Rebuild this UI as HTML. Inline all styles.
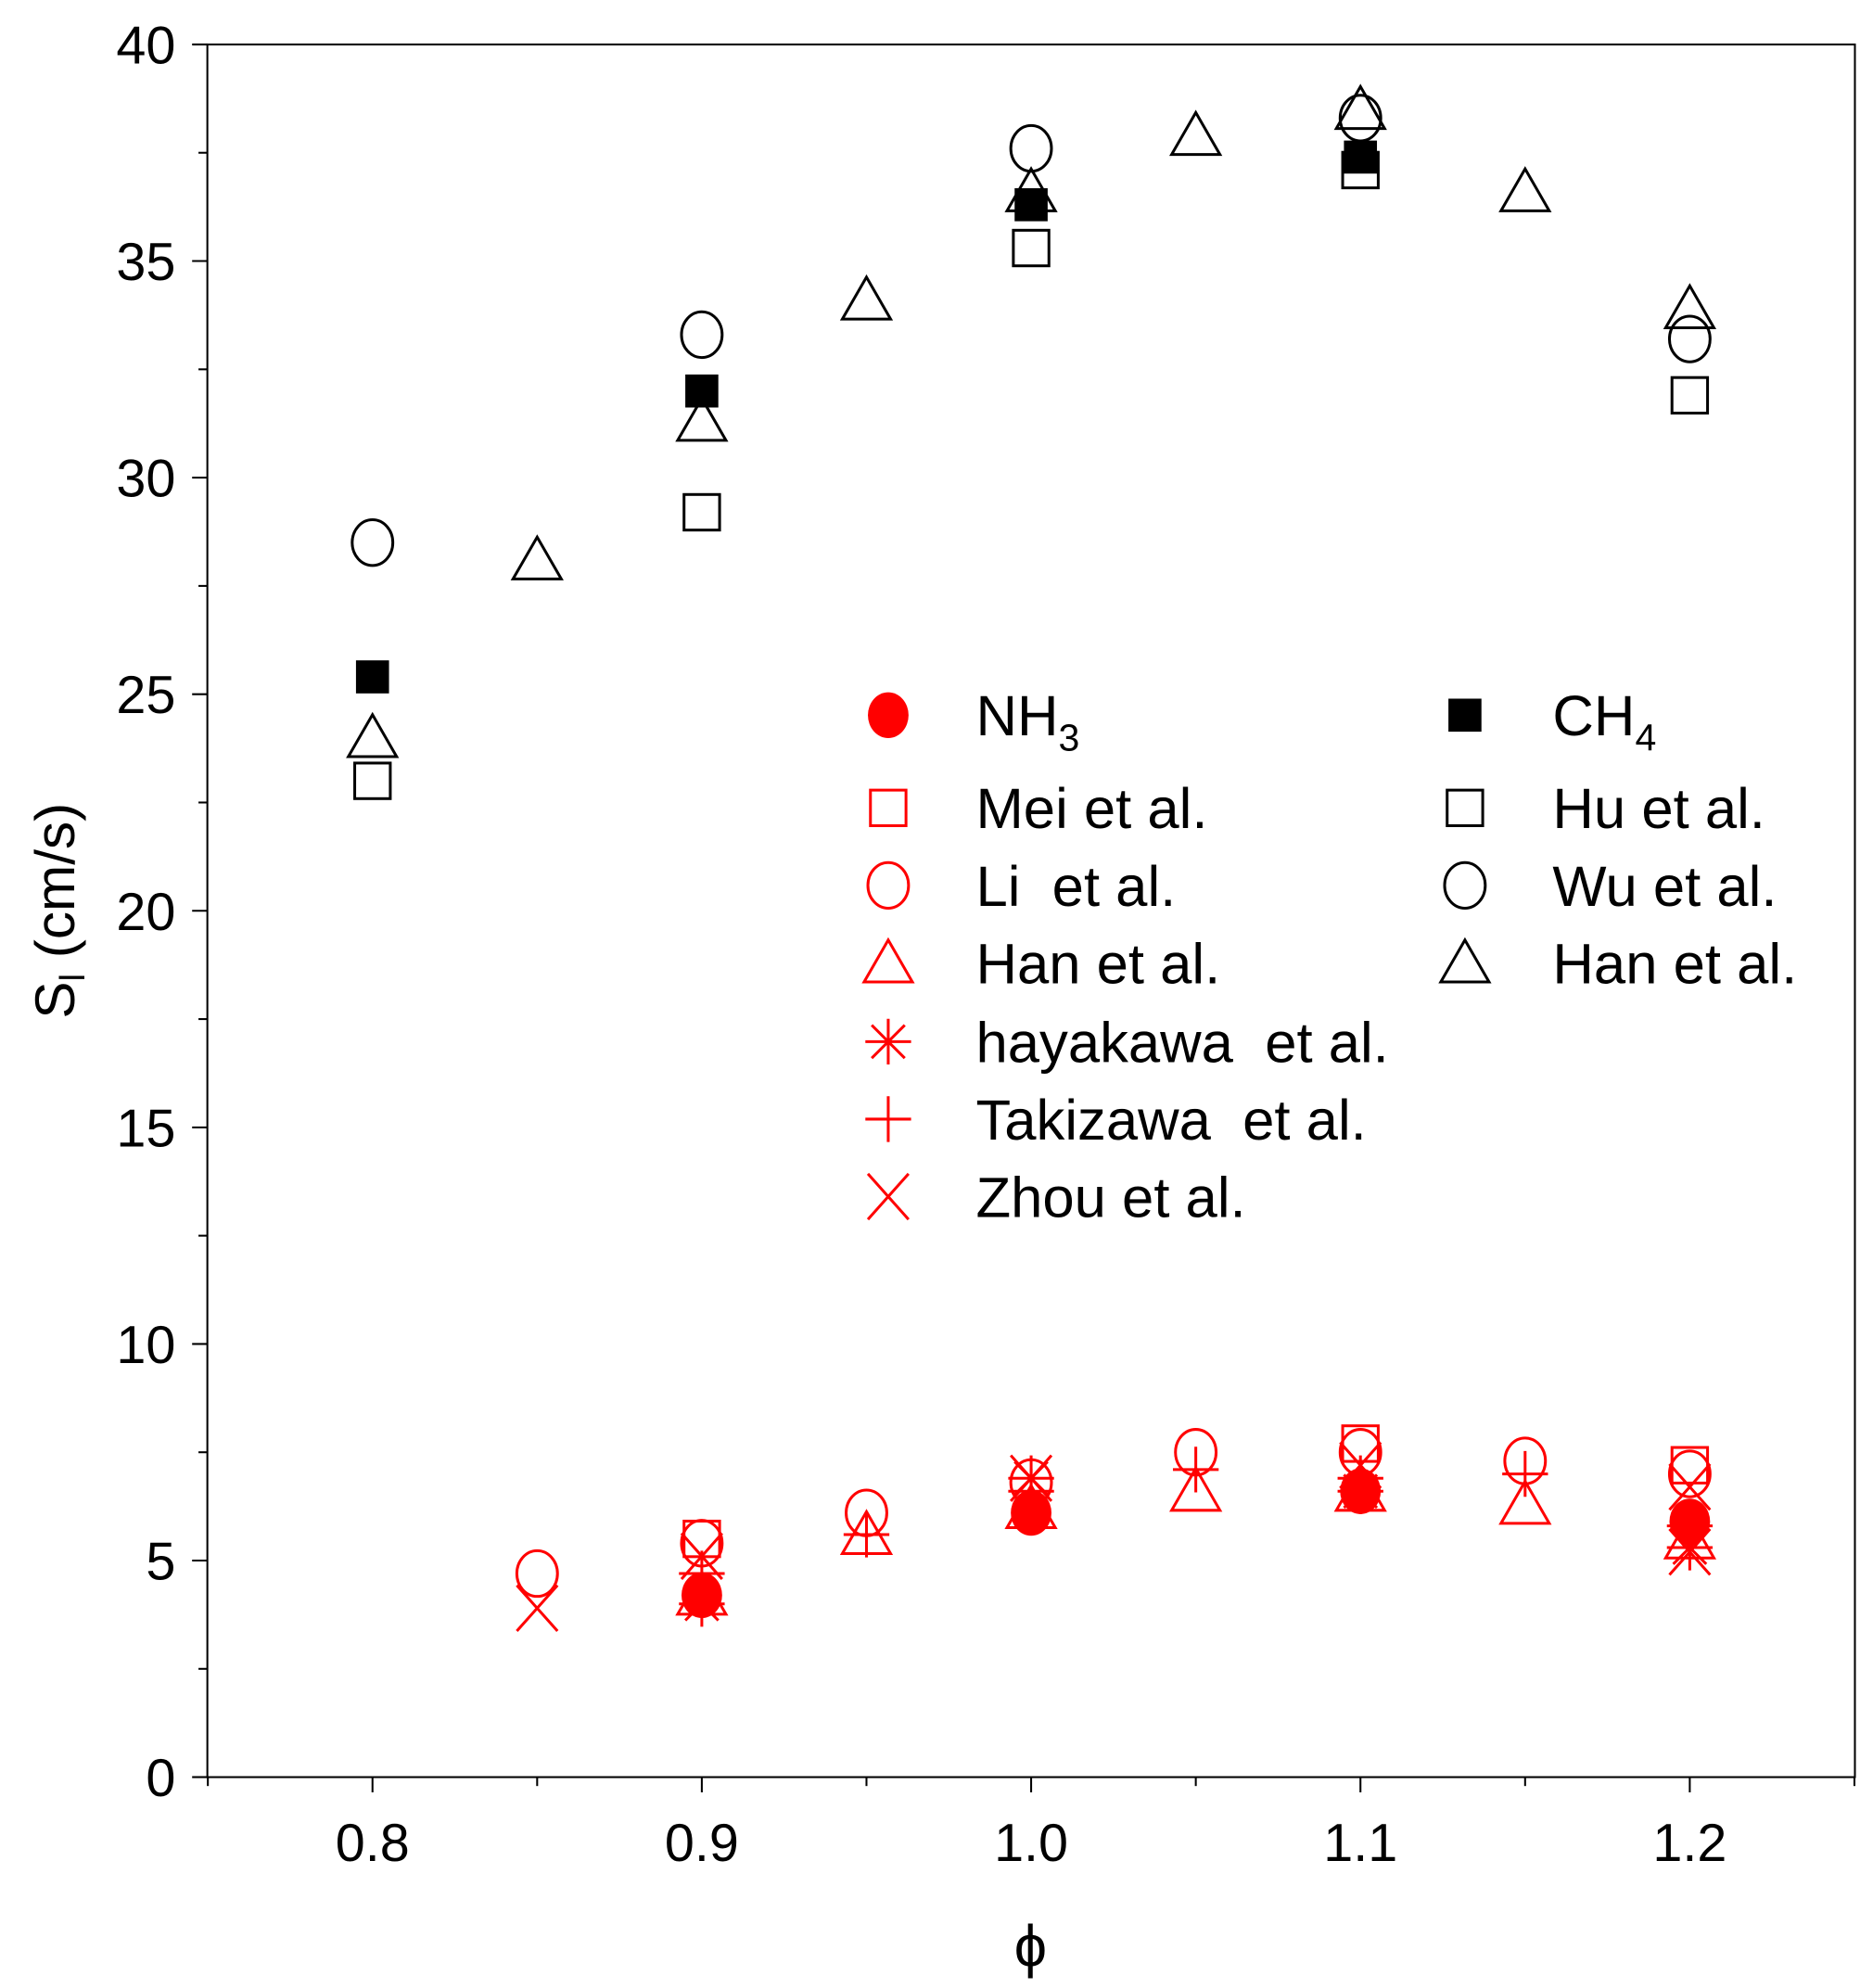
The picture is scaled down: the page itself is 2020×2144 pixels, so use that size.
<!DOCTYPE html>
<html><head><meta charset="utf-8"><style>html,body{margin:0;padding:0;background:#fff}svg{display:block}text{font-family:"Liberation Sans",Arial,sans-serif;white-space:pre}</style></head>
<body>
<svg id="chart" width="2020" height="2144" viewBox="0 0 1474 1565" xmlns="http://www.w3.org/2000/svg" xml:space="preserve">
<g id="axes"></g><g id="marks"></g><g id="legend"></g>
</svg>
<script>
const xTicks=[0.8,0.9,1.0,1.1,1.2];
const xTickLabels=["0.8","0.9","1.0","1.1","1.2"];
const yTicks=[0,5,10,15,20,25,30,35,40];
const ch4X=[0.8,0.9,1.0,1.1];
const ch4Y=[25.4,32.0,36.3,37.4];
const huX=[0.8,0.9,1.0,1.1,1.2];
const huY=[23.0,29.2,35.3,37.1,31.9];
const wuX=[0.8,0.9,1.0,1.1,1.2];
const wuY=[28.5,33.3,37.6,38.3,33.2];
const hanBX=[0.8,0.85,0.9,0.95,1.0,1.05,1.1,1.15,1.2];
const hanBY=[24.0,28.1,31.3,34.1,36.6,37.9,38.5,36.6,33.9];
const nh3X=[0.9,1.0,1.1,1.2];
const nh3Y=[4.2,6.1,6.6,5.9];
const meiX=[0.9,1.1,1.2];
const meiY=[5.5,7.7,7.2];
const liX=[0.85,0.9,0.95,1.0,1.05,1.1,1.15,1.2];
const liY=[4.7,5.4,6.1,6.8,7.5,7.5,7.3,7.0];
const hanRX=[0.9,0.95,1.0,1.05,1.1,1.15,1.2];
const hanRY=[4.2,5.6,6.2,6.6,6.6,6.3,5.5];
const hayX=[0.9,1.0,1.1,1.2];
const hayY=[4.0,6.9,6.6,5.3];
const takX=[0.9,0.95,1.0,1.05,1.1,1.15,1.2];
const takY=[4.7,5.6,6.6,7.1,6.9,7.0,5.8];
const zhouX=[0.85,0.9,1.0,1.1,1.2,1.2];
const zhouY=[3.9,5.1,6.9,7.2,5.2,6.7];

const NS="http://www.w3.org/2000/svg";
const L=163,R=1460,T=35,B=1399;
const sx=v=>293+(v-0.8)*2592.5;
const sy=v=>B-(v/40)*(B-T);
function mk(tag,attrs,parent){const e=document.createElementNS(NS,tag);for(const k in attrs)e.setAttribute(k,attrs[k]);parent.appendChild(e);return e;}
const axes=document.getElementById('axes'),marks=document.getElementById('marks'),leg=document.getElementById('legend');
const frame=mk('rect',{x:L,y:T,width:R-L,height:B-T,fill:'none',stroke:'#000','stroke-width':1.5},axes);


for(let v=0.75;v<=1.2501;v+=0.05){const x=sx(v);const major=Math.abs(Math.round(v*10)-v*10)<1e-6;
 const t=mk('line',{x1:x,x2:x,y1:B,y2:B+(major?12:7),stroke:'#000','stroke-width':1.5},axes);
 
 }
xTicks.forEach((v,i)=>{const t=mk('text',{x:sx(v),y:1465,'font-size':42,'text-anchor':'middle'},axes);t.textContent=xTickLabels[i];
 
 });
for(let v=0;v<=40;v+=2.5){const y=sy(v);const major=v%5===0;
 const t=mk('line',{x1:L-(major?12:7),x2:L,y1:y,y2:y,stroke:'#000','stroke-width':1.5},axes);
 
 }
yTicks.forEach(v=>{const t=mk('text',{x:138,y:sy(v)+15,'font-size':42,'text-anchor':'end'},axes);t.textContent=String(v);
 
 });
const xt=mk('text',{x:811,y:1548,'font-size':46,'text-anchor':'middle'},axes);xt.textContent='ϕ';


const yt=mk('text',{x:0,y:0,'font-size':44,'text-anchor':'middle',transform:'translate(58,717) rotate(-90)'},axes);
yt.innerHTML='S<tspan font-size="28" dy="8">l</tspan><tspan dy="-8"> (cm/s)</tspan>';



function marker(type,x,y,color,parent){
 const g=mk('g',{fill:'none',stroke:color,'stroke-width':2.2},parent);
 if(type==='fsq'){mk('rect',{x:x-13,y:y-13,width:26,height:26,fill:color,stroke:'none'},g);}
 else if(type==='sq'){mk('rect',{x:x-14,y:y-14,width:28,height:28},g);}
 else if(type==='circ'){mk('ellipse',{cx:x,cy:y,rx:16,ry:18},g);}
 else if(type==='fcirc'){mk('ellipse',{cx:x,cy:y,rx:16,ry:18,fill:color,stroke:'none'},g);}
 else if(type==='tri'){mk('polygon',{points:`${x},${y-18} ${x-19},${y+15} ${x+19},${y+15}`},g);}
 else if(type==='plus'){mk('path',{d:`M${x-18},${y}H${x+18}M${x},${y-18}V${y+18}`},g);}
 else if(type==='x'){mk('path',{d:`M${x-16},${y-18}L${x+16},${y+18}M${x+16},${y-18}L${x-16},${y+18}`},g);}
 else if(type==='star'){mk('path',{d:`M${x-18},${y}H${x+18}M${x},${y-18}V${y+18}M${x-13},${y-13}L${x+13},${y+13}M${x+13},${y-13}L${x-13},${y+13}`},g);}
 return g;
}
function series(name,type,color,xs,ys){xs.forEach((v,i)=>{const g=marker(type,sx(v),sy(ys[i]),color,marks);
 
 });}
series('hu','sq','#000',huX,huY);
series('wu','circ','#000',wuX,wuY);
series('ch4','fsq','#000',ch4X,ch4Y);
series('han-ch4','tri','#000',hanBX,hanBY);
series('mei','sq','#f00',meiX,meiY);
series('li','circ','#f00',liX,liY);
series('han-nh3','tri','#f00',hanRX,hanRY);
series('hayakawa','star','#f00',hayX,hayY);
series('takizawa','plus','#f00',takX,takY);
series('zhou','x','#f00',zhouX,zhouY);
series('nh3','fcirc','#f00',nh3X,nh3Y);

const legItems=[
 ['fcirc','#f00','NH<tspan font-size="30" dy="12">3</tspan>',699,563],
 ['sq','#f00','Mei et al.',699,636],
 ['circ','#f00','Li  et al.',699,697],
 ['tri','#f00','Han et al.',699,758],
 ['star','#f00','hayakawa  et al.',699,820],
 ['plus','#f00','Takizawa  et al.',699,881],
 ['x','#f00','Zhou et al.',699,942],
 ['fsq','#000','CH<tspan font-size="30" dy="12">4</tspan>',1153,563],
 ['sq','#000','Hu et al.',1153,636],
 ['circ','#000','Wu et al.',1153,697],
 ['tri','#000','Han et al.',1153,758]];
legItems.forEach(it=>{const g=mk('g',{},leg);
 
 
 marker(it[0],it[3],it[4],it[1],g);
 const t=mk('text',{x:it[3]+69,y:it[4]+16,'font-size':45,fill:'#000'},g);t.innerHTML=it[2];});
</script>
</body></html>
